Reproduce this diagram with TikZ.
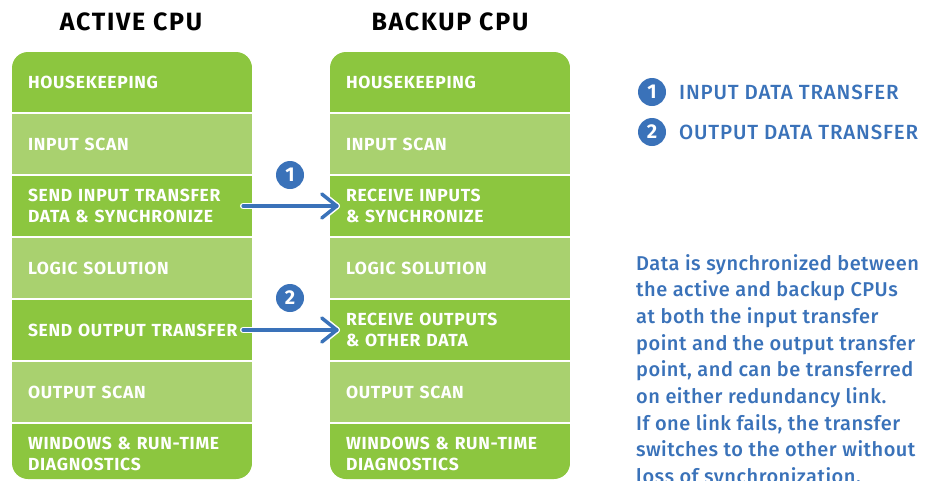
\documentclass[tikz,border=0pt]{standalone}
\usepackage{fontspec}
\setmainfont{Fira Sans}
\newfontfamily\medf{Fira Sans Medium}
\definecolor{dgreen}{RGB}{140,198,63}
\definecolor{lgreen}{RGB}{169,209,111}
\definecolor{geblue}{RGB}{58,114,185}
\begin{document}
\begin{tikzpicture}[x=1pt,y=-1pt,
  rowbox/.style={minimum width=240pt, minimum height=60pt, inner xsep=16pt, inner ysep=0pt,
    text width=208pt, align=left, text=white,
    font=\fontsize{17.5}{21}\selectfont\bfseries\addfontfeatures{LetterSpace=4}},
  darkrow/.style={rowbox, fill=dgreen},
  lightrow/.style={rowbox, fill=lgreen},
  title/.style={font=\fontsize{25}{28}\selectfont\bfseries\addfontfeatures{LetterSpace=7}, text=black},
  numdot/.style={circle, fill=geblue, minimum size=28pt, inner sep=0pt, text=white,
    font=\fontsize{20}{20}\selectfont\bfseries},
  legendtext/.style={anchor=west, inner sep=0pt, text=geblue,
    font=\fontsize{20.5}{24}\selectfont\medf\addfontfeatures{LetterSpace=4}},
  paraline/.style={anchor=base west, inner sep=0pt, text=geblue,
    font=\fontsize{20}{24}\selectfont\medf\addfontfeatures{LetterSpace=2.5}},
  linkout/.style={white, line width=6.5pt, line cap=round, line join=round},
  linkin/.style={geblue, line width=3.5pt, line cap=round, line join=round}
]
\useasboundingbox (0,0) rectangle (940,480);
\clip (0,0) rectangle (940,480);

% titles
\node[title] (tA) at (131,22) {ACTIVE CPU};
\node[title] (tB) at (450,22) {BACKUP CPU};

% active column
\begin{scope}
\clip[rounded corners=16pt] (12,52) rectangle (252,479);
\node[darkrow]  (a1) at (132,82)  {HOUSEKEEPING};
\node[lightrow] (a2) at (132,144) {INPUT SCAN};
\node[darkrow]  (a3) at (132,206) {SEND INPUT TRANSFER\\DATA \& SYNCHRONIZE};
\node[lightrow] (a4) at (132,268) {LOGIC SOLUTION};
\node[darkrow]  (a5) at (132,330) {SEND OUTPUT TRANSFER};
\node[lightrow] (a6) at (132,392) {OUTPUT SCAN};
\node[darkrow]  (a7) at (132,454) {WINDOWS \& RUN-TIME\\DIAGNOSTICS};
\end{scope}

% backup column
\begin{scope}
\clip[rounded corners=16pt] (330,52) rectangle (570,479);
\node[darkrow]  (b1) at (450,82)  {HOUSEKEEPING};
\node[lightrow] (b2) at (450,144) {INPUT SCAN};
\node[darkrow]  (b3) at (450,206) {RECEIVE INPUTS\\\& SYNCHRONIZE};
\node[lightrow] (b4) at (450,268) {LOGIC SOLUTION};
\node[darkrow]  (b5) at (450,330) {RECEIVE OUTPUTS\\\& OTHER DATA};
\node[lightrow] (b6) at (450,392) {OUTPUT SCAN};
\node[darkrow]  (b7) at (450,454) {WINDOWS \& RUN-TIME\\DIAGNOSTICS};
\end{scope}

% transfer arrows
\coordinate (s1) at ([xshift=-9pt]a3.east);
\coordinate (e1) at ([xshift=7pt]b3.west);
\coordinate (s2) at ([xshift=-9pt]a5.east);
\coordinate (e2) at ([xshift=7pt]b5.west);
\foreach \s/\e in {s1/e1, s2/e2}{
  \draw[linkout] (\s) -- (\e);
  \draw[linkout] ([shift={(-15pt,-12pt)}]\e) -- (\e) -- ([shift={(-15pt,12pt)}]\e);
  \draw[linkin] (\s) -- (\e);
  \draw[linkin] ([shift={(-15pt,-12pt)}]\e) -- (\e) -- ([shift={(-15pt,12pt)}]\e);
}
\node[numdot] (n1) at (290,175) {1};
\node[numdot] (n2) at (290,298) {2};

% legend
\node[numdot] (k1) at (652,92) {1};
\node[numdot] (k2) at (652,132) {2};
\node[legendtext] (kt1) at (679,92) {INPUT DATA TRANSFER};
\node[legendtext] (kt2) at (679,132) {OUTPUT DATA TRANSFER};

% paragraph
\node[paraline] (p1) at (636,270)   {Data is synchronized between};
\node[paraline] (p2) at (636,296.7) {the active and backup CPUs};
\node[paraline] (p3) at (636,323.3) {at both the input transfer};
\node[paraline] (p4) at (636,350)   {point and the output transfer};
\node[paraline] (p5) at (636,376.7) {point, and can be transferred};
\node[paraline] (p6) at (636,403.3) {on either redundancy link.};
\node[paraline] (p7) at (636,430)   {If one link fails, the transfer};
\node[paraline] (p8) at (636,456.7) {switches to the other without};
\node[paraline] (p9) at (636,483.3) {loss of synchronization.};
\end{tikzpicture}
\end{document}
